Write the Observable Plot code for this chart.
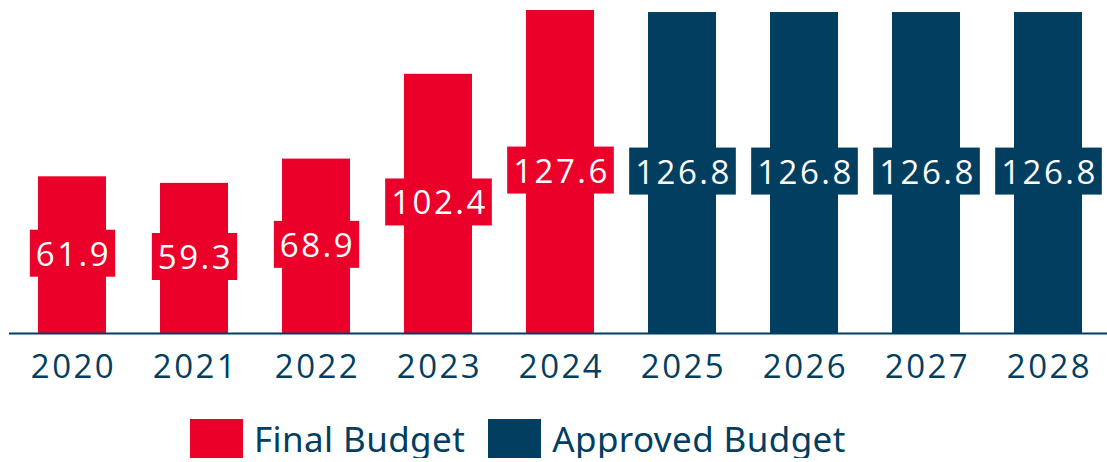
<!DOCTYPE html>
<html>
<head>
<meta charset="utf-8">
<script src="https://cdn.jsdelivr.net/npm/d3@7"></script>
<script src="https://cdn.jsdelivr.net/npm/@observablehq/plot@0.6"></script>
<style>
  body { margin: 0; background: #fff; }
  #chart svg { display: block; }
  #chart svg text { letter-spacing: 2.5px; }
  .legend { display: flex; align-items: center; margin-top: 19px; padding-left: 190px; font-family: "Noto Sans", sans-serif; font-size: 35px; letter-spacing: 0.4px; color: #023E60; line-height: 39px; }
  .legend .sw { width: 53px; height: 39px; margin-right: 11px; }
  .legend .item { display: flex; align-items: center; margin-right: 23px; }
</style>
</head>
<body>
<div id="chart"></div>
<div class="legend" id="legend"></div>
<script>
const years = ["2020", "2021", "2022", "2023", "2024", "2025", "2026", "2027", "2028"];
const values = [61.9, 59.3, 68.9, 102.4, 127.6, 126.8, 126.8, 126.8, 126.8];
const types = ["Final Budget", "Final Budget", "Final Budget", "Final Budget", "Final Budget",
               "Approved Budget", "Approved Budget", "Approved Budget", "Approved Budget"];
const seriesNames = ["Final Budget", "Approved Budget"];
const seriesColors = ["#EA0029", "#023E60"];

const data = years.map((year, i) => ({year, value: values[i], type: types[i]}));
const navy = "#023E60";
const numFont = "'Open Sans', sans-serif";

const plot = Plot.plot({
  width: 1107,
  height: 400,
  marginLeft: 12,
  marginRight: 0,
  marginTop: 10,
  marginBottom: 67,
  style: {fontFamily: numFont, background: "#fff"},
  x: {domain: years, paddingInner: 0.445, paddingOuter: 0.19, label: null},
  y: {domain: [0, 127.6], axis: null},
  color: {domain: seriesNames, range: seriesColors},
  marks: [
    Plot.barY(data, {x: "year", y: "value", fill: "type"}),
    Plot.ruleY([0], {stroke: navy, strokeWidth: 2, insetLeft: -3}),
    Plot.text(data, {x: "year", y: d => d.value / 2, text: d => d.value.toFixed(1), fill: "white", fontSize: 33, dx: 1, className: "vlabel"}),
    Plot.axisX({tickSize: 0, tickPadding: 21, fontSize: 33, fill: navy, dx: 1, label: null})
  ]
});
document.getElementById("chart").appendChild(plot);

// label boxes behind the value labels, coloured by series
const colorScale = plot.scale("color");
d3.select(plot).selectAll("g.vlabel text").each(function(_, i) {
  const b = this.getBBox();
  const padL = 6, padR = 4, padY = 1;
  d3.select(this.parentNode).insert("rect", () => this)
    .attr("x", b.x - padL).attr("y", b.y - padY)
    .attr("width", b.width + padL + padR).attr("height", b.height + 2 * padY)
    .attr("fill", colorScale.apply(data[i].type))
    .attr("transform", this.getAttribute("transform"));
});

const legend = document.getElementById("legend");
seriesNames.forEach((name, i) => {
  const item = document.createElement("div");
  item.className = "item";
  const sw = document.createElement("div");
  sw.className = "sw";
  sw.style.background = seriesColors[i];
  const label = document.createElement("span");
  label.textContent = name;
  item.appendChild(sw);
  item.appendChild(label);
  legend.appendChild(item);
});
</script>
</body>
</html>
